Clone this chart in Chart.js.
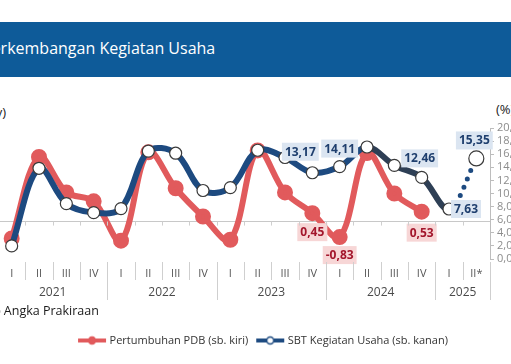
<!DOCTYPE html>
<html>
<head>
<meta charset="utf-8">
<script src="https://cdn.jsdelivr.net/npm/chart.js@4.4.1/dist/chart.umd.min.js"></script>
<style>
    html, body { margin: 0; padding: 0; background: #fff; }
    body { width: 511px; height: 364px; overflow: hidden; position: relative; font-family: "Open Sans", sans-serif; }
    #titleBar { position: absolute; left: 0; top: 22px; width: 511px; height: 55px; background: #0e5b99; }
    #titleBar span { position: absolute; left: -18px; top: 15px; color: #fff; font-size: 16px; white-space: nowrap; }
    .unit { position: absolute; font-size: 13px; color: #222; white-space: nowrap; }
    #unitLeft { left: -80px; width: 86px; text-align: right; top: 103px; }
    #unitRight { left: 496px; top: 100px; }
    #note { position: absolute; left: -10px; top: 302px; font-size: 12.5px; color: #1a1a1a; white-space: nowrap; }
    #chartBox { position: absolute; left: -2px; top: 100px; width: 532px; height: 264px; }
</style>
</head>
<body>
<div id="titleBar"><span>Perkembangan Kegiatan Usaha</span></div>
<div class="unit" id="unitLeft">(%, yoy)</div>
<div class="unit" id="unitRight">(%)</div>
<div id="chartBox"><canvas id="sbtChart" width="532" height="264"></canvas></div>
<div id="note">*) Angka Prakiraan</div>

<script>
// quarters and year groups
const quarters = ['I', 'II', 'III', 'IV', 'I', 'II', 'III', 'IV', 'I', 'II', 'III', 'IV', 'I', 'II', 'III', 'IV', 'I', 'II*'];
const years = ['2021', '2022', '2023', '2024', '2025'];
const yearSpans = [4, 4, 4, 4, 2];

// Pertumbuhan PDB (sb. kiri), %
const pdbGrowth = [-0.9, 3.45, 1.56, 1.08, -1.02, 3.7, 1.78, 0.27, -0.97, 3.8, 1.56, 0.45, -0.83, 3.66, 1.5, 0.53, null, null];
// SBT Kegiatan Usaha (sb. kanan), %
const sbtUsaha = [2.0, 13.85, 8.46, 7.08, 7.7, 16.46, 16.15, 10.46, 10.9, 16.6, 15.5, 13.17, 14.11, 17.1, 14.3, 12.46, 7.63, 15.35];

const rightTicks = [0, 20, 2];

// which points carry a value box: [dataset, index, dx, dy]
const labelled = [
    [1, 11, -12, -21], [1, 12, 0, -18], [1, 15, -2, -19], [1, 16, 17, 0], [1, 17, -2, -18],
    [0, 11, 0, 19], [0, 12, 0, 18], [0, 15, 0, 21]
];

const red = '#e15a5c';
const navy = '#1d4a80';

function legendMarker(color, fill) {
    const c = document.createElement('canvas');
    c.width = 30; c.height = 12;
    const g = c.getContext('2d');
    g.strokeStyle = color; g.lineWidth = 4;
    g.beginPath(); g.moveTo(1, 6); g.lineTo(29, 6); g.stroke();
    g.beginPath(); g.arc(15, 6, 3.5, 0, Math.PI * 2);
    g.fillStyle = fill; g.fill(); g.lineWidth = 1.5; g.stroke();
    return c;
}
const markers = [legendMarker(red, red), legendMarker(navy, '#fff')];

const axisExtras = {
    id: 'axisExtras',
    afterDraw(chart) {
        const { ctx, scales: { x, y } } = chart;
        const half = (x.getPixelForValue(1) - x.getPixelForValue(0)) / 2;
        const zeroY = y.getPixelForValue(0);
        const top = chart.chartArea.bottom + 3;
        ctx.save();
        ctx.strokeStyle = '#cfcfcf';
        ctx.lineWidth = 1;
        // group boundaries
        const starts = [0];
        yearSpans.forEach(n => starts.push(starts[starts.length - 1] + n));
        for (let i = 1; i <= quarters.length; i++) {
            const bx = Math.round(x.getPixelForValue(i) - half) + 0.5;
            const isYear = starts.includes(i);
            ctx.beginPath();
            ctx.moveTo(bx, top);
            ctx.lineTo(bx, isYear ? top + 38 : top + 18);
            ctx.stroke();
            if (i < quarters.length) {
                ctx.beginPath();
                ctx.moveTo(bx, zeroY);
                ctx.lineTo(bx, zeroY + 4);
                ctx.stroke();
            }
        }
        // year labels
        ctx.fillStyle = '#4a4a4a';
        ctx.font = '12px "Open Sans"';
        ctx.textAlign = 'center';
        ctx.textBaseline = 'middle';
        years.forEach((yr, k) => {
            const mid = (x.getPixelForValue(starts[k]) + x.getPixelForValue(starts[k + 1] - 1)) / 2;
            ctx.fillText(yr, mid, top + 31);
        });
        ctx.restore();
    },
    afterDatasetsDraw(chart) {
        const { ctx } = chart;
        ctx.save();
        ctx.font = 'bold 12px "Open Sans"';
        ctx.textAlign = 'center';
        ctx.textBaseline = 'middle';
        labelled.forEach(([ds, idx, dx, dy]) => {
            const pt = chart.getDatasetMeta(ds).data[idx];
            const v = chart.data.datasets[ds].data[idx];
            const txt = v.toFixed(2).replace('.', ',');
            const w = ctx.measureText(txt).width + 6;
            const cx = pt.x + dx, cy = pt.y + dy;
            ctx.fillStyle = ds === 0 ? '#f7d6d6' : '#dbe5f1';
            ctx.fillRect(cx - w / 2, cy - 9, w, 18);
            ctx.fillStyle = ds === 0 ? '#a3162c' : '#1f3f6e';
            ctx.fillText(txt, cx, cy + 0.5);
        });
        ctx.restore();
    }
};

const chart = new Chart(document.getElementById('sbtChart'), {
    type: 'line',
    data: {
        labels: quarters,
        datasets: [{
            label: 'Pertumbuhan PDB (sb. kiri)',
            data: pdbGrowth,
            yAxisID: 'y',
            order: 2,
            borderColor: red,
            borderWidth: 6,
            tension: 0.35,
            pointRadius: 5,
            pointBackgroundColor: red,
            pointBorderColor: red,
            clip: false
        }, {
            label: 'SBT Kegiatan Usaha (sb. kanan)',
            data: sbtUsaha,
            yAxisID: 'y2',
            order: 1,
            borderColor: navy,
            borderWidth: 6,
            borderCapStyle: 'round',
            tension: 0.35,
            pointRadius: ctx => ctx.dataIndex === sbtUsaha.length - 1 ? 7.5 : 6,
            pointBackgroundColor: '#fff',
            pointBorderColor: '#3a3a3a',
            pointBorderWidth: 1.2,
            clip: false,
            segment: {
                borderDash: ctx => ctx.p0DataIndex === sbtUsaha.length - 2 ? [0, 9] : undefined,
                borderWidth: ctx => ctx.p0DataIndex === sbtUsaha.length - 2 ? 5 : undefined,
                borderColor: ctx => ctx.p0DataIndex >= 13 && ctx.p0DataIndex < sbtUsaha.length - 2 ? '#2e3f55' : undefined
            }
        }]
    },
    options: {
        responsive: false,
        animation: false,
        layout: { autoPadding: false, padding: { top: 28, bottom: 8, left: 0, right: 0 } },
        plugins: {
            tooltip: { enabled: false },
            legend: {
                position: 'bottom',
                labels: {
                    usePointStyle: true,
                    pointStyleWidth: 24,
                    padding: 10,
                    color: '#333',
                    font: { family: 'Open Sans', size: 11 },
                    sort: (a, b) => a.datasetIndex - b.datasetIndex,
                    generateLabels: c => Chart.defaults.plugins.legend.labels.generateLabels(c).map(it => {
                        it.pointStyle = markers[it.datasetIndex];
                        return it;
                    })
                }
            }
        },
        scales: {
            x: {
                offset: true,
                grid: { display: false, drawTicks: false },
                border: { display: false },
                ticks: { color: '#555', font: { family: 'Open Sans', size: 11 }, padding: 8, autoSkip: false, maxRotation: 0 },
                afterFit: s => { s.height = 66; }
            },
            y: {
                position: 'left',
                min: -2, max: 5,
                ticks: { display: false, stepSize: 1 },
                grid: { color: c => c.tick.value === 0 ? '#c8c8c8' : 'transparent', drawTicks: false },
                border: { display: false },
                afterFit: s => { s.width = 0; }
            },
            y2: {
                position: 'right',
                min: rightTicks[0], max: rightTicks[1],
                ticks: {
                    stepSize: rightTicks[2],
                    autoSkip: false,
                    color: '#8c8c8c',
                    padding: 3,
                    font: { family: 'Open Sans', size: 11 },
                    callback: v => v.toFixed(1).replace('.', ',')
                },
                grid: { drawOnChartArea: false, tickLength: 4, color: '#bdbdbd' },
                border: { display: true, color: '#bdbdbd' },
                afterFit: s => { s.width = 40; }
            }
        }
    },
    plugins: [axisExtras]
});
</script>
</body>
</html>
